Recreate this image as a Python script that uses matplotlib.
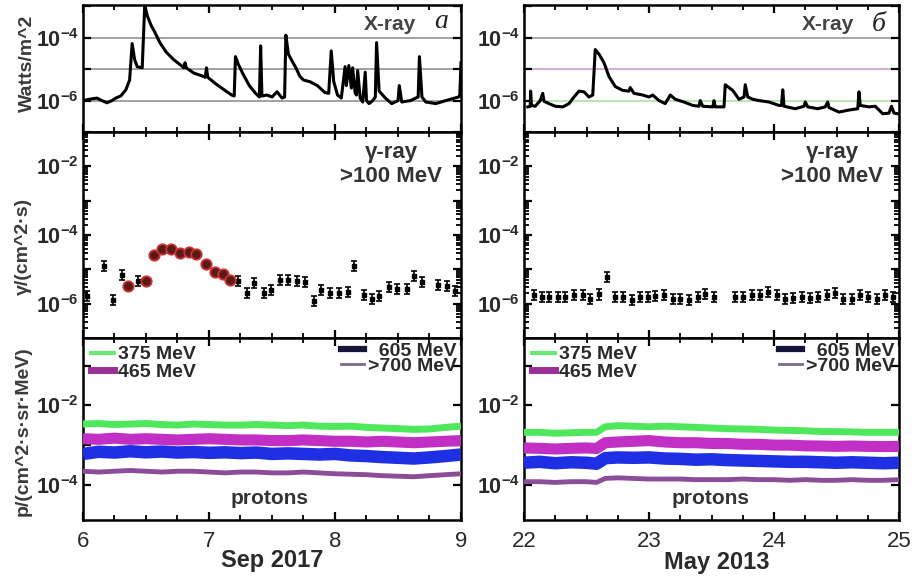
import matplotlib
matplotlib.use("Agg")
import matplotlib.pyplot as plt
from matplotlib.ticker import FixedLocator, FixedFormatter, MultipleLocator, NullLocator, LogLocator
from matplotlib.lines import Line2D

plt.rcParams['font.family'] = ['Liberation Sans', 'DejaVu Sans']
plt.rcParams['mathtext.fontset'] = 'custom'
plt.rcParams['mathtext.rm'] = 'Liberation Sans'
plt.rcParams['mathtext.bf'] = 'Liberation Sans:bold'

# ---------------- DATA ----------------
# X-ray flux, Sep 6-9 2017
xray_a_t = [6.00, 6.05, 6.11, 6.15, 6.19, 6.23, 6.26, 6.30, 6.34, 6.37, 6.39, 6.41, 6.43, 6.47,
            6.49, 6.51, 6.54, 6.57, 6.61, 6.66, 6.72, 6.78, 6.80, 6.81, 6.82, 6.88, 6.95, 6.97,
            6.98, 6.99, 7.05, 7.12, 7.18, 7.20, 7.21, 7.23, 7.27, 7.32, 7.37, 7.40, 7.41, 7.42,
            7.46, 7.50, 7.54, 7.58, 7.60, 7.61, 7.63, 7.66, 7.69, 7.72, 7.75, 7.80, 7.86, 7.92,
            7.95, 7.97, 7.99, 8.02, 8.05, 8.08, 8.09, 8.11, 8.13, 8.14, 8.16, 8.17, 8.18, 8.20,
            8.22, 8.24, 8.25, 8.27, 8.30, 8.32, 8.33, 8.35, 8.40, 8.45, 8.50, 8.51, 8.53, 8.60,
            8.64, 8.66, 8.67, 8.69, 8.72, 8.80, 8.88, 8.95, 8.98, 8.99, 9.00]
xray_a_f = [1.0e-6, 1.1e-6, 1.2e-6, 1.0e-6, 8.5e-7, 1.0e-6, 1.2e-6, 1.4e-6, 2.2e-6, 4.5e-6, 6.5e-5,
            2.0e-5, 1.2e-5, 1.1e-5, 1.1e-3, 5.0e-4, 2.5e-4, 1.5e-4, 7.0e-5, 3.5e-5, 2.0e-5, 1.3e-5,
            1.1e-5, 1.6e-5, 1.1e-5, 7.5e-6, 6.0e-6, 5.5e-6, 1.1e-5, 5.5e-6, 3.5e-6, 2.2e-6, 1.5e-6,
            1.4e-6, 2.5e-5, 1.5e-5, 7.0e-6, 3.0e-6, 1.7e-6, 1.3e-6, 5.5e-5, 1.4e-6, 1.5e-6, 1.3e-6,
            1.9e-6, 1.2e-6, 1.3e-6, 1.2e-4, 3.0e-5, 1.8e-5, 1.1e-5, 6.0e-6, 4.5e-6, 4.0e-6, 3.0e-6,
            1.8e-6, 1.7e-6, 3.8e-5, 4.0e-6, 1.5e-6, 1.2e-6, 1.2e-5, 3.0e-6, 1.3e-5, 2.5e-6, 1.1e-5,
            1.8e-6, 1.5e-6, 9.0e-6, 1.2e-6, 9.0e-7, 8.0e-6, 1.0e-6, 8.0e-7, 1.0e-6, 1.3e-6, 7.0e-5,
            2.0e-6, 1.2e-6, 8.0e-7, 1.0e-6, 3.0e-6, 9.0e-7, 1.0e-6, 1.2e-6, 1.3e-6, 2.5e-5, 1.3e-6,
            9.0e-7, 8.0e-7, 1.0e-6, 1.2e-6, 1.3e-6, 1.4e-6, 1.6e-5]

# X-ray flux, May 22-25 2013
xray_b_t = [22.03, 22.05, 22.053, 22.06, 22.09, 22.13, 22.15, 22.16, 22.20, 22.25, 22.31, 22.36,
            22.40, 22.44, 22.48, 22.52, 22.55, 22.57, 22.60, 22.64, 22.68, 22.73, 22.79, 22.84,
            22.85, 22.88, 22.95, 23.00, 23.03, 23.08, 23.13, 23.17, 23.21, 23.28, 23.35, 23.40,
            23.41, 23.43, 23.51, 23.52, 23.53, 23.60, 23.61, 23.67, 23.72, 23.76, 23.77, 23.79,
            23.83, 23.88, 23.96, 24.04, 24.06, 24.07, 24.08, 24.17, 24.24, 24.25, 24.27, 24.35,
            24.41, 24.43, 24.44, 24.52, 24.60, 24.67, 24.68, 24.69, 24.76, 24.81, 24.87, 24.92,
            24.94, 24.96, 24.99]
xray_b_f = [6.3e-7, 6.5e-7, 2.0e-6, 7.0e-7, 6.6e-7, 1.0e-6, 1.7e-6, 9.5e-7, 8.0e-7, 6.6e-7, 6.3e-7,
            8.0e-7, 1.3e-6, 2.0e-6, 1.9e-6, 1.3e-6, 1.5e-6, 4.2e-5, 3.0e-5, 1.6e-5, 5.8e-6, 2.8e-6,
            2.1e-6, 2.0e-6, 2.6e-6, 1.7e-6, 1.5e-6, 1.3e-6, 1.5e-6, 1.0e-6, 8.0e-7, 1.5e-6, 1.1e-6,
            9.0e-7, 7.0e-7, 6.6e-7, 1.0e-6, 6.6e-7, 6.3e-7, 1.0e-6, 6.3e-7, 6.3e-7, 3.2e-6, 2.1e-6,
            1.1e-6, 1.3e-6, 3.2e-6, 1.3e-6, 1.1e-6, 1.0e-6, 9.0e-7, 7.0e-7, 7.0e-7, 2.2e-6, 6.6e-7,
            5.5e-7, 6.6e-7, 9.0e-7, 6.3e-7, 5.5e-7, 6.3e-7, 9.0e-7, 6.0e-7, 4.3e-7, 5.0e-7, 5.5e-7,
            1.9e-6, 7.0e-7, 6.3e-7, 6.6e-7, 3.8e-7, 4.0e-7, 6.6e-7, 4.0e-7, 3.8e-7]

# gamma-ray >100 MeV, Sep 2017 (background points)
gam_a_t = [6.03, 6.17, 6.24, 6.31, 6.44, 7.23, 7.30, 7.36, 7.44, 7.49, 7.56, 7.63, 7.70, 7.76,
           7.83, 7.89, 7.96, 8.03, 8.10, 8.15, 8.23, 8.29, 8.35, 8.43, 8.49, 8.57, 8.63, 8.69,
           8.82, 8.89, 8.95]
gam_a_f = [1.66e-6, 1.26e-5, 1.3e-6, 6.8e-6, 4.7e-6, 4.7e-6, 2.1e-6, 4.0e-6, 2.1e-6, 2.5e-6,
           5.0e-6, 4.8e-6, 4.6e-6, 4.4e-6, 1.2e-6, 2.5e-6, 2.1e-6, 2.1e-6, 2.2e-6, 1.26e-5,
           1.8e-6, 1.4e-6, 1.66e-6, 3.0e-6, 2.7e-6, 2.7e-6, 6.5e-6, 4.2e-6, 3.5e-6, 3.2e-6, 2.4e-6]
# gamma-ray, Sep 2017 (flare-associated points, red)
gam_a_flare_t = [6.36, 6.50, 6.56, 6.63, 6.70, 6.77, 6.84, 6.90, 6.98, 7.05, 7.11, 7.17]
gam_a_flare_f = [3.3e-6, 4.7e-6, 2.7e-5, 4.0e-5, 4.0e-5, 3.0e-5, 3.3e-5, 2.8e-5, 1.45e-5,
                 8.5e-6, 7.2e-6, 5.0e-6]

# gamma-ray, May 2013
gam_b_t = [22.08, 22.14, 22.20, 22.27, 22.33, 22.40, 22.47, 22.53, 22.60, 22.66, 22.73, 22.79,
           22.86, 22.93, 22.99, 23.05, 23.12, 23.19, 23.25, 23.32, 23.39, 23.45, 23.52, 23.69,
           23.75, 23.82, 23.89, 23.95, 24.02, 24.09, 24.15, 24.22, 24.29, 24.35, 24.42, 24.49,
           24.55, 24.62, 24.69, 24.75, 24.82, 24.89, 24.95]
gam_b_f = [1.75e-6, 1.58e-6, 1.58e-6, 1.58e-6, 1.58e-6, 1.75e-6, 1.75e-6, 1.4e-6, 1.85e-6, 6.0e-6,
           1.58e-6, 1.58e-6, 1.26e-6, 1.58e-6, 1.58e-6, 1.65e-6, 1.75e-6, 1.4e-6, 1.4e-6, 1.3e-6,
           1.58e-6, 1.95e-6, 1.58e-6, 1.58e-6, 1.58e-6, 1.75e-6, 1.75e-6, 2.2e-6, 1.75e-6, 1.4e-6,
           1.5e-6, 1.58e-6, 1.5e-6, 1.58e-6, 1.75e-6, 2.0e-6, 1.4e-6, 1.4e-6, 1.75e-6, 1.58e-6,
           1.4e-6, 1.75e-6, 1.58e-6]

# protons, Sep 2017
prot_a_t = [6.0, 6.125, 6.25, 6.375, 6.5, 6.625, 6.75, 6.875, 7.0, 7.125, 7.25, 7.375, 7.5,
            7.625, 7.75, 7.875, 8.0, 8.125, 8.25, 8.375, 8.5, 8.625, 8.75, 8.875, 9.0]
p375_a = [3.4e-3, 3.5e-3, 3.3e-3, 3.4e-3, 3.5e-3, 3.3e-3, 3.2e-3, 3.4e-3, 3.3e-3, 3.2e-3, 3.2e-3,
          3.3e-3, 3.2e-3, 3.1e-3, 3.2e-3, 3.0e-3, 2.95e-3, 3.0e-3, 2.8e-3, 2.7e-3, 2.6e-3, 2.5e-3,
          2.55e-3, 2.8e-3, 3.0e-3]
p465_a = [1.45e-3, 1.4e-3, 1.5e-3, 1.4e-3, 1.45e-3, 1.4e-3, 1.35e-3, 1.4e-3, 1.45e-3, 1.4e-3,
          1.35e-3, 1.35e-3, 1.3e-3, 1.3e-3, 1.35e-3, 1.3e-3, 1.25e-3, 1.25e-3, 1.2e-3, 1.25e-3,
          1.2e-3, 1.15e-3, 1.2e-3, 1.25e-3, 1.3e-3]
p605_a = [6.0e-4, 6.8e-4, 6.5e-4, 7.0e-4, 6.6e-4, 6.9e-4, 6.5e-4, 6.7e-4, 6.4e-4, 6.6e-4, 6.3e-4,
          6.5e-4, 6.0e-4, 6.2e-4, 6.0e-4, 5.8e-4, 6.0e-4, 5.5e-4, 5.3e-4, 5.0e-4, 4.8e-4, 4.6e-4,
          4.9e-4, 5.3e-4, 5.8e-4]
p700_a = [2.2e-4, 2.1e-4, 2.2e-4, 2.3e-4, 2.2e-4, 2.1e-4, 2.2e-4, 2.2e-4, 2.1e-4, 2.0e-4, 2.1e-4,
          2.1e-4, 2.0e-4, 2.0e-4, 2.1e-4, 2.0e-4, 1.9e-4, 1.85e-4, 1.8e-4, 1.7e-4, 1.65e-4, 1.6e-4,
          1.7e-4, 1.8e-4, 1.9e-4]

# protons, May 2013
prot_b_t = [22.0, 22.125, 22.25, 22.375, 22.5, 22.58, 22.65, 22.75, 22.875, 23.0, 23.125, 23.25,
            23.375, 23.5, 23.625, 23.75, 23.875, 24.0, 24.125, 24.25, 24.375, 24.5, 24.625,
            24.75, 24.875, 25.0]
p375_b = [2.1e-3, 2.1e-3, 2.0e-3, 2.05e-3, 2.1e-3, 2.1e-3, 2.9e-3, 3.1e-3, 3.0e-3, 2.9e-3, 3.0e-3,
          2.9e-3, 2.8e-3, 2.7e-3, 2.6e-3, 2.55e-3, 2.5e-3, 2.4e-3, 2.35e-3, 2.3e-3, 2.2e-3, 2.2e-3,
          2.15e-3, 2.1e-3, 2.1e-3, 2.1e-3]
p465_b = [8.5e-4, 8.3e-4, 8.0e-4, 8.3e-4, 8.5e-4, 8.2e-4, 1.15e-3, 1.2e-3, 1.25e-3, 1.3e-3,
          1.2e-3, 1.15e-3, 1.15e-3, 1.1e-3, 1.1e-3, 1.05e-3, 1.05e-3, 1.0e-3, 1.0e-3, 9.6e-4,
          9.5e-4, 9.3e-4, 9.5e-4, 9.3e-4, 9.2e-4, 9.3e-4]
p605_b = [3.6e-4, 3.8e-4, 3.5e-4, 3.7e-4, 3.6e-4, 3.4e-4, 4.7e-4, 4.9e-4, 4.8e-4, 4.9e-4, 4.6e-4,
          4.5e-4, 4.3e-4, 4.4e-4, 4.2e-4, 4.1e-4, 4.0e-4, 3.9e-4, 3.8e-4, 3.8e-4, 3.7e-4, 3.6e-4,
          3.7e-4, 3.6e-4, 3.5e-4, 3.6e-4]
p700_b = [1.2e-4, 1.2e-4, 1.15e-4, 1.2e-4, 1.2e-4, 1.15e-4, 1.45e-4, 1.5e-4, 1.45e-4, 1.4e-4,
          1.4e-4, 1.4e-4, 1.35e-4, 1.35e-4, 1.35e-4, 1.4e-4, 1.35e-4, 1.35e-4, 1.3e-4, 1.35e-4,
          1.3e-4, 1.3e-4, 1.35e-4, 1.3e-4, 1.3e-4, 1.35e-4]

proton_labels = ['375 MeV', '465 MeV', '605 MeV', '>700 MeV']
xray_grid = [1e-4, 1e-5, 1e-6]

# ---------------- STYLE / LAYOUT ----------------
W, H = 917, 578
fig = plt.figure(figsize=(W / 100, H / 100), dpi=100)


def box(x0, y0, x1, y1):
    return [x0 / W, 1 - y1 / H, (x1 - x0) / W, (y1 - y0) / H]


def fp(x, y):
    return x / W, 1 - y / H


cols = [(83, 461, 6, 9), (524, 899, 22, 25)]
rows = [(5, 132), (132, 338), (338, 520)]

C_GREEN = '#4fe85c'
C_MAG = '#c22fc4'
C_BLUE = '#1f2fe4'
C_PURP = '#8b4c98'
TXT = '#2a2a2a'


def style_axis(ax, xmin, xmax, ylim, yt, ylab, show_x, minor_y=False):
    ax.set_xlim(xmin, xmax)
    ax.set_yscale('log')
    ax.set_ylim(*ylim)
    ax.xaxis.set_major_locator(MultipleLocator(1))
    ax.xaxis.set_minor_locator(MultipleLocator(0.25))
    ax.yaxis.set_major_locator(FixedLocator(yt))
    ax.yaxis.set_major_formatter(FixedFormatter(ylab))
    if minor_y:
        ax.yaxis.set_minor_locator(LogLocator(base=10, subs=[2, 3, 4, 5, 6, 7, 8, 9], numticks=20))
    else:
        ax.yaxis.set_minor_locator(NullLocator())
    ax.tick_params(which='both', direction='in', top=True, right=True, colors='black')
    ax.tick_params(which='major', length=6, width=1.6)
    ax.tick_params(which='minor', length=3.5, width=1.3)
    ax.tick_params(axis='y', which='major', pad=3, labelsize=15.5, labelcolor=TXT)
    ax.tick_params(axis='x', which='major', pad=8, labelsize=16, labelcolor=TXT)
    if not show_x:
        ax.tick_params(axis='x', labelbottom=False)
    for s in ax.spines.values():
        s.set_linewidth(1.8)
        s.set_color('black')


def lab(p):
    return r'$\mathbf{10^{%d}}$' % p


for ci, (x0, x1, tmin, tmax) in enumerate(cols):
    # ---- X-ray ----
    ax = fig.add_axes(box(x0, rows[0][0], x1, rows[0][1]))
    style_axis(ax, tmin, tmax, (1e-7, 1.1e-3), [1e-7, 1e-6, 1e-5, 1e-4, 1e-3],
               ['', lab(-6), '', lab(-4), ''], False)
    gcols = ['#9a9a9a', '#9a9a9a', '#9a9a9a'] if ci == 0 else ['#a0a0a0', '#c8a8c8', '#b8e0b0']
    for g, c in zip(xray_grid, gcols):
        ax.axhline(g, color=c, lw=1.3, zorder=1)
    if ci == 0:
        ax.plot(xray_a_t, xray_a_f, color='black', lw=2.2, zorder=3)
    else:
        ax.plot(xray_b_t, xray_b_f, color='black', lw=2.2, zorder=3)

    # ---- gamma ----
    ax = fig.add_axes(box(x0, rows[1][0], x1, rows[1][1]))
    style_axis(ax, tmin, tmax, (1e-7, 1e-1), [1e-6, 1e-5, 1e-4, 1e-3, 1e-2],
               [lab(-6), '', lab(-4), '', lab(-2)], False, minor_y=True)
    if ci == 0:
        t, f = gam_a_t, gam_a_f
    else:
        t, f = gam_b_t, gam_b_f
    lo = [v - v / 1.4 for v in f]
    hi = [v * 1.4 - v for v in f]
    ax.errorbar(t, f, yerr=[lo, hi], fmt='s', ms=2.8, color='black', ecolor='black',
                elinewidth=1.2, capsize=2.0, capthick=1.2, zorder=3)
    if ci == 0:
        ax.plot(gam_a_flare_t, gam_a_flare_f, 'o', ms=7.5, mfc='#5a1a1a', mec='#cc3333',
                mew=1.3, zorder=4)

    # ---- protons ----
    ax = fig.add_axes(box(x0, rows[2][0], x1, rows[2][1]))
    style_axis(ax, tmin, tmax, (1.3e-5, 0.5), [1e-4, 1e-3, 1e-2, 1e-1],
               [lab(-4), '', lab(-2), ''], True)
    ax.set_xticks([tmin, tmin + 1, tmin + 2, tmax])
    ax.set_xticklabels([str(v) for v in range(tmin, tmax + 1)])
    if ci == 0:
        pt, series = prot_a_t, [p375_a, p465_a, p605_a, p700_a]
    else:
        pt, series = prot_b_t, [p375_b, p465_b, p605_b, p700_b]
    for s, c, lw in zip(series, [C_GREEN, C_MAG, C_BLUE, C_PURP], [5, 8, 9, 3.5]):
        ax.plot(pt, s, color=c, lw=lw, solid_capstyle='butt', solid_joinstyle='round', zorder=3)
    h1 = [Line2D([], [], color='#6ae874', lw=3), Line2D([], [], color='#9a2f98', lw=5)]
    leg1 = ax.legend(h1, proton_labels[:2], loc='upper left', frameon=False,
                     prop=dict(weight='bold', size=14), labelcolor=TXT, handlelength=1.2,
                     handletextpad=0.2, labelspacing=0.0, borderaxespad=0.25, borderpad=0.15)
    ax.add_artist(leg1)
    h2 = [Line2D([], [], color='#15153a', lw=4.5), Line2D([], [], color='#7a6a8a', lw=2)]
    ax.legend(h2, ['  ' + proton_labels[2], proton_labels[3]], loc='upper right', frameon=False,
              prop=dict(weight='bold', size=14), labelcolor=TXT, handlelength=1.2,
              handletextpad=0.2, labelspacing=-0.1, borderaxespad=0.15, borderpad=0.05)

# ---------------- TEXT ----------------
fig.text(*fp(390, 25), 'X-ray', ha='center', va='center', fontsize=15, weight='bold', color='#444')
fig.text(*fp(828, 25), 'X-ray', ha='center', va='center', fontsize=15, weight='bold', color='#444')
fig.text(*fp(441, 28), 'а', ha='center', va='baseline', fontsize=20, style='italic',
         family=['Liberation Serif', 'DejaVu Serif'], color='#222')
fig.text(*fp(879, 31), 'б', ha='center', va='baseline', fontsize=20, style='italic',
         family=['Liberation Serif', 'DejaVu Serif'], color='#222')

for cx in (391, 832):
    fig.text(*fp(cx, 153), 'γ-ray', ha='center', va='center', fontsize=16, weight='bold', color='#333')
    fig.text(*fp(cx, 177), '>100 MeV', ha='center', va='center', fontsize=16, weight='bold', color='#333')

fig.text(*fp(270, 499), 'protons', ha='center', va='center', fontsize=15, weight='bold', color='#333')
fig.text(*fp(711, 499), 'protons', ha='center', va='center', fontsize=15, weight='bold', color='#333')

fig.text(*fp(272, 560), 'Sep 2017', ha='center', va='center', fontsize=17, weight='bold', color=TXT)
fig.text(*fp(717, 562), 'May 2013', ha='center', va='center', fontsize=17, weight='bold', color=TXT)

fig.text(*fp(27, 63), 'Watts/m^2', ha='center', va='center', rotation=90, fontsize=14,
         weight='bold', color='#3a3a3a')
fig.text(*fp(23, 246), 'γ/(cm^2·s)', ha='center', va='center', rotation=90, fontsize=14,
         weight='bold', color='#3a3a3a')
fig.text(*fp(23, 431), 'p/(cm^2·s·sr·MeV)', ha='center', va='center', rotation=90, fontsize=14,
         weight='bold', color='#3a3a3a')

fig.savefig('out.png', dpi=100)
